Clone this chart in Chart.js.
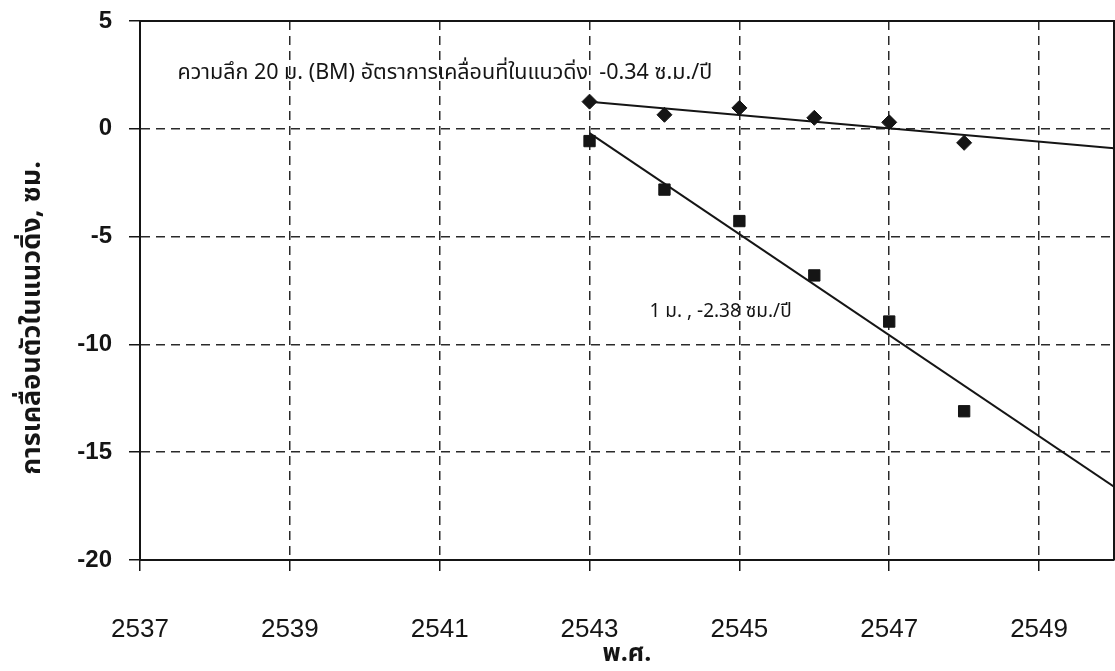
<!DOCTYPE html>
<html>
<head>
<meta charset="utf-8">
<script src="https://cdn.jsdelivr.net/npm/chart.js@4/dist/chart.umd.min.js"></script>
<style>
  html, body { margin: 0; background: #fff; }
  #wrap { width: 1115px; height: 671px; }
</style>
</head>
<body>
<div id="wrap"><canvas id="chart"></canvas></div>
<script>
// data
const years = [2543, 2544, 2545, 2546, 2547, 2548];
const move20m = [1.26, 0.65, 0.97, 0.51, 0.3, -0.65];
const move1m = [-0.57, -2.82, -4.28, -6.8, -8.94, -13.1];
const trendYears = [2543, 2550];
const trend20m = [1.25, -0.9];
const trend1m = [-0.2, -16.6];
const xTicks = [2537, 2539, 2541, 2543, 2545, 2547, 2549];
const yTicks = [5, 0, -5, -10, -15, -20];

const note20m = 'ความลึก 20 ม. (BM) อัตราการเคลื่อนที่ในแนวดิ่ง  -0.34 ซ.ม./ปี';
const note1m = '1 ม. , -2.38 ซม./ปี';
const xTitle = 'พ.ศ.';
const yTitle = 'การเคลื่อนตัวในแนวดิ่ง, ซม.';

const THAI = 'Tahoma, "Noto Sans Thai", Loma, Garuda, "DejaVu Sans", sans-serif';
const INK = '#151515';

const pts = (xs, ys) => xs.map((x, i) => ({ x, y: ys[i] }));

// frame, notes and the y title
const overlay = {
  id: 'overlay',
  afterDraw(chart) {
    const { ctx, chartArea: a, scales: { x, y } } = chart;
    ctx.save();
    ctx.strokeStyle = INK;
    ctx.lineWidth = 2;
    ctx.beginPath();
    ctx.moveTo(a.left, a.top);
    ctx.lineTo(a.right, a.top);
    ctx.lineTo(a.right, a.bottom);
    ctx.stroke();

    ctx.fillStyle = INK;
    ctx.textBaseline = 'middle';
    ctx.font = '21.5px ' + THAI;
    ctx.fillText(note20m, x.getPixelForValue(2537.5), y.getPixelForValue(2.5));
    ctx.font = '19px ' + THAI;
    ctx.fillText(note1m, x.getPixelForValue(2543.8), y.getPixelForValue(-8.54));

    ctx.font = 'bold 27px ' + THAI;
    ctx.textAlign = 'center';
    ctx.translate(35, 318);
    ctx.rotate(-Math.PI / 2);
    ctx.fillText(yTitle, 0, 0);
    ctx.restore();
  }
};

new Chart(document.getElementById('chart'), {
  type: 'scatter',
  data: {
    datasets: [
      {
        label: '20 ม.',
        data: pts(years, move20m),
        pointStyle: 'rectRot',
        pointRadius: 7.5,
        backgroundColor: INK,
        borderColor: INK,
        borderWidth: 1,
      },
      {
        label: '1 ม.',
        data: pts(years, move1m),
        pointStyle: 'rect',
        pointRadius: 8,
        backgroundColor: INK,
        borderColor: INK,
        borderWidth: 1,
      },
      {
        label: 'แนวโน้ม 20 ม.',
        data: pts(trendYears, trend20m),
        showLine: true,
        pointRadius: 0,
        borderColor: INK,
        borderWidth: 2,
      },
      {
        label: 'แนวโน้ม 1 ม.',
        data: pts(trendYears, trend1m),
        showLine: true,
        pointRadius: 0,
        borderColor: INK,
        borderWidth: 2,
      },
    ]
  },
  options: {
    responsive: true,
    maintainAspectRatio: false,
    animation: false,
    layout: { autoPadding: false, padding: { top: 21, right: 1, left: 0, bottom: 0 } },
    plugins: {
      legend: { display: false },
      tooltip: { enabled: false },
    },
    scales: {
      x: {
        type: 'linear',
        min: 2537,
        max: 2550,
        afterFit: s => { s.height = 111; s.paddingLeft = 0; s.paddingRight = 0; },
        afterBuildTicks: s => { s.ticks = xTicks.map(v => ({ value: v })); },
        ticks: {
          color: INK,
          padding: 43,
          font: { family: '"Liberation Sans", Arial', size: 26 },
          callback: v => String(v),
        },
        grid: {
          color: '#2a2a2a',
          lineWidth: 1.5,
          tickLength: 11,
          tickColor: INK,
          tickWidth: 1.5,
        },
        border: { display: true, color: INK, width: 2, dash: [9, 6] },
        title: {
          display: true,
          text: xTitle,
          color: INK,
          font: { family: THAI, size: 25, weight: 'bold' },
          padding: { top: 0, bottom: 0 },
        },
      },
      y: {
        min: -20,
        max: 5,
        afterFit: s => { s.width = 140; s.paddingTop = 0; s.paddingBottom = 0; },
        afterBuildTicks: s => { s.ticks = yTicks.map(v => ({ value: v })); },
        ticks: {
          color: INK,
          padding: 17,
          font: { family: '"Liberation Sans", Arial', size: 24, weight: 'bold' },
        },
        grid: {
          color: '#2a2a2a',
          lineWidth: 1.5,
          tickLength: 11,
          tickColor: INK,
          tickWidth: 1.5,
        },
        border: { display: true, color: INK, width: 2, dash: [9, 6] },
      },
    },
  },
  plugins: [overlay],
});
</script>
</body>
</html>
